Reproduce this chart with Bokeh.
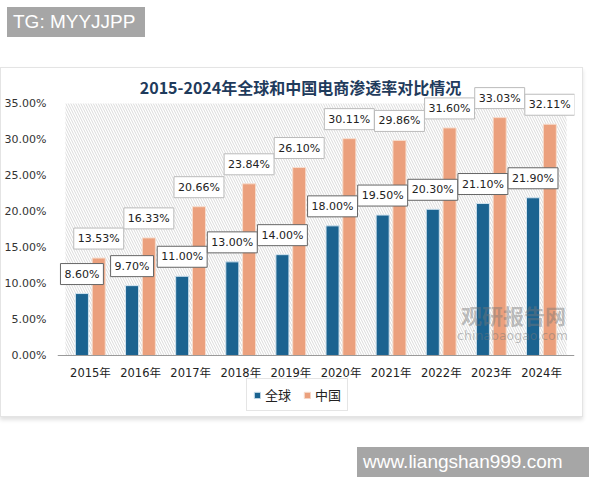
from bokeh.plotting import figure
from bokeh.layouts import column
from bokeh.models import (ColumnDataSource, FactorRange, Range1d, FixedTicker,
                          PrintfTickFormatter, Label, BoxAnnotation, Legend, Div)
from bokeh.core.properties import value
from bokeh.transform import dodge
from bokeh.embed import file_html
from bokeh.resources import INLINE

# data
years = ["2015年", "2016年", "2017年", "2018年", "2019年",
         "2020年", "2021年", "2022年", "2023年", "2024年"]
global_rate = [8.60, 9.70, 11.00, 13.00, 14.00, 18.00, 19.50, 20.30, 21.10, 21.90]
china_rate = [13.53, 16.33, 20.66, 23.84, 26.10, 30.11, 29.86, 31.60, 33.03, 32.11]
y_ticks = [0, 5, 10, 15, 20, 25, 30, 35]

title_text = "2015-2024年全球和中国电商渗透率对比情况"
blue = "#1b6390"
orange = "#eba07d"
num_font = "DejaVu Sans, Noto Sans CJK SC"
cjk_font = "Noto Sans CJK SC"

src = ColumnDataSource(dict(
    year=years,
    g=global_rate,
    c=china_rate,
    g_lbl=["%.2f%%" % v for v in global_rate],
    c_lbl=["%.2f%%" % v for v in china_rate],
))

# the white card holding the chart; the frame fills it top to bottom
xr = FactorRange(*years, range_padding=0.1575, range_padding_units="absolute")
p = figure(width=583, height=350, x_range=xr, y_range=Range1d(-8.75, 39.85),
           output_backend="svg", toolbar_location=None,
           min_border_left=49, min_border_right=10, min_border_top=0, min_border_bottom=0)
p.styles = {"border": "1px solid #e4e4e4", "box-shadow": "0 3px 4px rgba(0,0,0,0.12)",
            "box-sizing": "border-box"}
p.background_fill_color = "white"
p.border_fill_color = "white"
p.outline_line_color = None
p.grid.grid_line_color = None

# hatched plot area from 0 to the 35% line
hatch = BoxAnnotation(left=0, right=len(years), bottom=0, top=35, fill_color="white",
                      fill_alpha=1, line_color=None, hatch_pattern="\\", hatch_color="#dadada",
                      hatch_scale=5, hatch_weight=1, level="underlay")
p.add_layout(hatch)

gb = p.vbar(x=dodge("year", -0.17, range=p.x_range), top="g", width=0.26, source=src,
            fill_color=blue, line_color="#cfe2ee", line_width=1)
cb = p.vbar(x=dodge("year", 0.165, range=p.x_range), top="c", width=0.26, source=src,
            fill_color=orange, line_color="#f6dccd", line_width=1)

# value tags
p.text(x=dodge("year", -0.17, range=p.x_range), y="g", text="g_lbl", source=src,
       y_offset=-9, text_align="center", text_baseline="bottom",
       text_font=value(num_font), text_font_size="11px", text_color="#222222",
       background_fill_color="white", border_line_color="#666666", padding=4)
p.text(x=dodge("year", 0.165, range=p.x_range), y="c", text="c_lbl", source=src,
       y_offset=-9, text_align="center", text_baseline="bottom",
       text_font=value(num_font), text_font_size="11px", text_color="#222222",
       background_fill_color="white", border_line_color="#bbbbbb", padding=4)

# axes
p.yaxis.ticker = FixedTicker(ticks=y_ticks)
p.yaxis.formatter = PrintfTickFormatter(format="%.2f%%")
p.yaxis.axis_line_color = None
p.yaxis.major_tick_line_color = None
p.yaxis.minor_tick_line_color = None
p.yaxis.major_label_standoff = 5
p.yaxis.major_label_text_font = num_font
p.yaxis.major_label_text_font_size = "11px"
p.yaxis.major_label_text_color = "#333333"

p.xaxis.fixed_location = 0
p.xaxis.axis_line_color = "#9a9a9a"
p.xaxis.major_tick_line_color = None
p.xaxis.minor_tick_line_color = None
p.xaxis.major_label_standoff = 5
p.xaxis.major_label_text_font = num_font
p.xaxis.major_label_text_font_size = "11.5px"
p.xaxis.major_label_text_color = "#222222"

legend = Legend(items=[("全球", [gb]), ("中国", [cb])], orientation="horizontal",
                location=(189, 7), margin=0, padding=6, spacing=12,
                label_standoff=4, glyph_width=8, glyph_height=8,
                label_text_font=cjk_font, label_text_font_size="13px",
                label_text_color="#222222", border_line_color="#cccccc",
                background_fill_color="white")
p.add_layout(legend)

# title
p.add_layout(Label(x=243, y=332, x_units="screen", y_units="screen", text=title_text,
                   text_align="center", text_baseline="middle", text_font=cjk_font,
                   text_font_style="bold", text_font_size="16px", text_color="#1f3b5c"))

# faint site mark inside the plot
p.add_layout(Label(x=456, y=104, x_units="screen", y_units="screen", text="观研报告网",
                   text_align="center", text_baseline="middle", text_font=cjk_font,
                   text_font_style="bold", text_font_size="21px", text_color="#777777",
                   text_alpha=0.45))
p.add_layout(Label(x=455, y=83, x_units="screen", y_units="screen", text="chinabaogao.com",
                   text_align="center", text_baseline="middle", text_font="DejaVu Sans",
                   text_font_size="12.5px", text_color="#777777", text_alpha=0.45))

# grey tags pasted on the image
tag_css = ("position:absolute;height:30px;line-height:30px;background:#a6a6a6;color:#ffffff;"
           "font-family:'Liberation Sans',Arial,sans-serif;font-size:19px;box-sizing:border-box;")
top_tag = Div(width=584, height=57,
              text='<div style="%sleft:2px;top:2px;width:138px;padding-left:6px;">TG: MYYJJPP</div>' % tag_css)
bottom_tag = Div(width=584, height=57,
                 text='<div style="%sleft:352px;top:25px;width:232px;padding-left:6px;">www.liangshan999.com</div>' % tag_css)

page = column(top_tag, p, bottom_tag, spacing=0)

open("out.html", "w").write(file_html(page, INLINE))
